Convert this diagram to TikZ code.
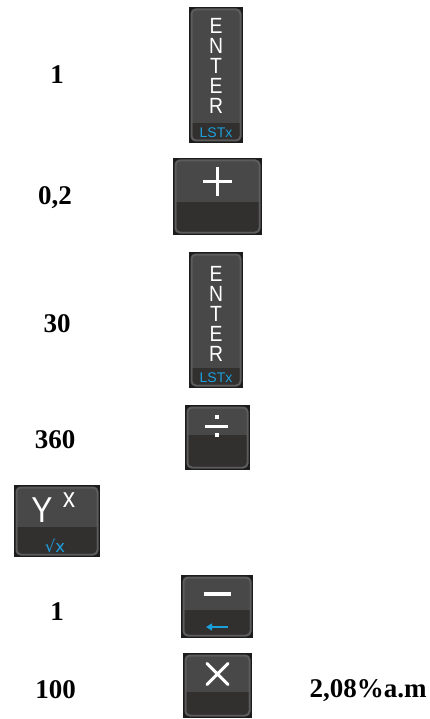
\documentclass[tikz,border=0pt]{standalone}
\usepackage{fontspec}
\setmainfont{Liberation Serif}
\newfontfamily\keynarrow[FakeStretch=0.88]{Liberation Sans}
\newfontfamily\keysans{Liberation Sans}
\newfontfamily\keysym{DejaVu Sans}
\usetikzlibrary{arrows.meta,calc}
\definecolor{keyedge}{RGB}{28,28,28}
\definecolor{keyrim}{RGB}{92,92,92}
\definecolor{keytop}{RGB}{72,72,72}
\definecolor{keybot}{RGB}{50,47,47}
\definecolor{keyblue}{RGB}{28,160,220}

\begin{document}
\begin{tikzpicture}[
    x=1pt, y=-1pt,
    keyface/.style={rectangle, fill=keyedge, inner sep=0pt, path picture={
        \coordinate (kSW) at (path picture bounding box.south west);
        \coordinate (kNE) at (path picture bounding box.north east);
        \fill[keyrim, rounded corners=5pt] ($(kSW)+(1.5pt,1.5pt)$) rectangle ($(kNE)-(1.5pt,1.5pt)$);
        \begin{scope}
            \clip[rounded corners=4pt] ($(kSW)+(3.5pt,3.5pt)$) rectangle ($(kNE)-(3.5pt,3.5pt)$);
            \fill[keytop] (kSW) rectangle (kNE);
            \fill[keybot] (kSW) rectangle ($(kNE|-kSW)+(0pt,#1pt)$);
        \end{scope}}},
    numlabel/.style={font=\bfseries\fontsize{27}{30}\selectfont, anchor=base, inner sep=0pt},
    keyglyph/.style={text=white, anchor=base, inner sep=0pt},
    enterword/.style={text=white, inner sep=0pt, align=center, font=\keynarrow\fontsize{22}{20}\selectfont},
    shiftlabel/.style={keyglyph, text=keyblue, font=\keysans\fontsize{14}{14}\selectfont},
    glyphline/.style={white, line width=3pt},
]
    \useasboundingbox (0,0) rectangle (430,719);

    % numbers typed in
    \node[numlabel] (n1) at (57,84) {1};
    \node[numlabel] (n02) at (55,205) {0,2};
    \node[numlabel] (n30) at (57,332) {30};
    \node[numlabel] (n360) at (55,448) {360};
    \node[numlabel] (n1b) at (57,620) {1};
    \node[numlabel] (n100) at (55.5,698) {100};
    \node[numlabel] (res) at (368,697) {2,08\%a.m};

    % ENTER keys
    \node[keyface=20, minimum width=54pt, minimum height=136pt] (enterA) at (216,75) {};
    \node[enterword] (enterA-txt) at ($(enterA.center)+(0,-9.5)$) {E\\N\\T\\E\\R};
    \node[shiftlabel] (enterA-lst) at ($(enterA.south)+(0,-6)$) {LSTx};

    \node[keyface=20, minimum width=54pt, minimum height=136pt] (enterB) at (216,320) {};
    \node[enterword] (enterB-txt) at ($(enterB.center)+(0,-6.5)$) {E\\N\\T\\E\\R};
    \node[shiftlabel] (enterB-lst) at ($(enterB.south)+(0,-6)$) {LSTx};

    % plus key
    \node[keyface=33, minimum width=89pt, minimum height=77pt] (plusK) at (217.5,196.5) {};
    \coordinate (plusC) at ($(plusK.center)+(0,-14.5)$);
    \draw[glyphline] ([xshift=-14.5pt]plusC) -- ([xshift=14.5pt]plusC)
        ([yshift=-14.5pt]plusC) -- ([yshift=14.5pt]plusC);

    % divide key
    \node[keyface=35, minimum width=65pt, minimum height=65pt] (divK) at (217.5,437.5) {};
    \coordinate (divC) at ($(divK.center)+(-1,-11.5)$);
    \draw[glyphline] ([xshift=-11.5pt]divC) -- ([xshift=11.5pt]divC);
    \fill[white] ($(divC)+(-2,-11)$) rectangle ($(divC)+(2,-7)$);
    \fill[white] ($(divC)+(-2,7)$) rectangle ($(divC)+(2,11)$);

    % power key
    \node[keyface=30, minimum width=86pt, minimum height=72pt] (powK) at (57,521) {};
    \node[keyglyph, font=\keynarrow\fontsize{36}{36}\selectfont] (powK-y) at (42,522) {Y};
    \node[keyglyph, font=\keynarrow\fontsize{28}{28}\selectfont] (powK-x) at (69,507) {x};
    \node[keyglyph, text=keyblue, font=\keysym\fontsize{16.5}{16.5}\selectfont] (powK-r) at (55,552) {√x};

    % minus key
    \node[keyface=28, minimum width=72pt, minimum height=63pt] (minusK) at (217,606.5) {};
    \coordinate (minusC) at ($(minusK.center)+(0,-12.5)$);
    \draw[glyphline, line width=3.5pt] ([xshift=-13.5pt]minusC) -- ([xshift=13.5pt]minusC);
    \coordinate (backR) at ($(minusK.center)+(11,20.5)$);
    \coordinate (backL) at ($(minusK.center)+(-11,20.5)$);
    \draw[keyblue, line width=2pt, -{Triangle[length=6pt,width=7pt]}] (backR) -- (backL);

    % times key
    \node[keyface=26, minimum width=69pt, minimum height=65pt] (timesK) at (217.5,685.5) {};
    \coordinate (timesC) at ($(timesK.center)+(0,-11.5)$);
    \draw[glyphline, line cap=round] ($(timesC)+(-10.5,-10.5)$) -- ($(timesC)+(10.5,10.5)$)
        ($(timesC)+(10.5,-10.5)$) -- ($(timesC)+(-10.5,10.5)$);
\end{tikzpicture}
\end{document}
